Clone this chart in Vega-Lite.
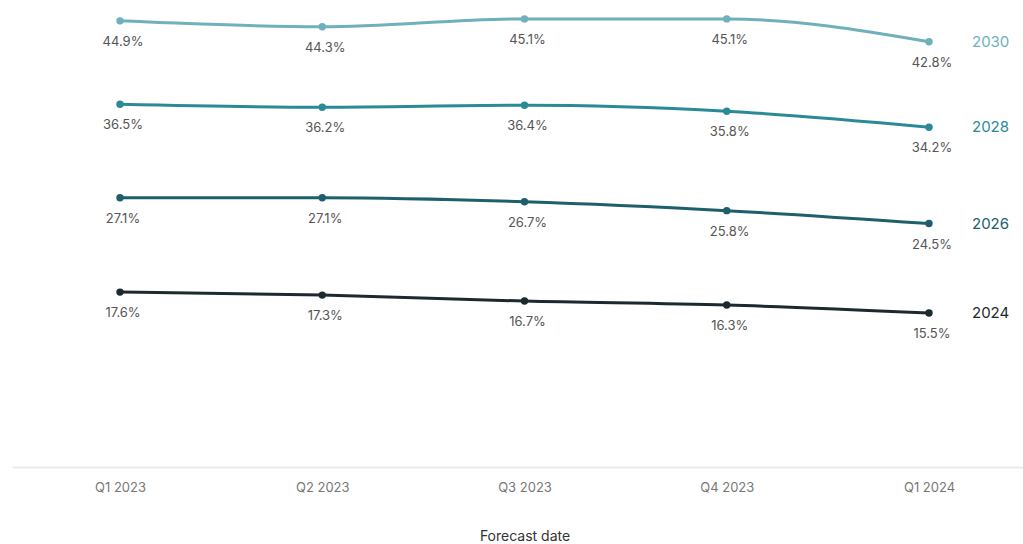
{
  "$schema": "https://vega.github.io/schema/vega-lite/v6.json",
  "width": 1025,
  "height": 467,
  "autosize": "none",
  "padding": {"left": 12, "top": 0, "right": 0, "bottom": 77},
  "background": "white",
  "config": {"view": {"stroke": null}, "font": "Inter"},
  "data": {"values": [
    {"date": "Q1 2023", "series": "2030", "value": 44.9},
    {"date": "Q2 2023", "series": "2030", "value": 44.3},
    {"date": "Q3 2023", "series": "2030", "value": 45.1},
    {"date": "Q4 2023", "series": "2030", "value": 45.1},
    {"date": "Q1 2024", "series": "2030", "value": 42.8},
    {"date": "Q1 2023", "series": "2028", "value": 36.5},
    {"date": "Q2 2023", "series": "2028", "value": 36.2},
    {"date": "Q3 2023", "series": "2028", "value": 36.4},
    {"date": "Q4 2023", "series": "2028", "value": 35.8},
    {"date": "Q1 2024", "series": "2028", "value": 34.2},
    {"date": "Q1 2023", "series": "2026", "value": 27.1},
    {"date": "Q2 2023", "series": "2026", "value": 27.1},
    {"date": "Q3 2023", "series": "2026", "value": 26.7},
    {"date": "Q4 2023", "series": "2026", "value": 25.8},
    {"date": "Q1 2024", "series": "2026", "value": 24.5},
    {"date": "Q1 2023", "series": "2024", "value": 17.6},
    {"date": "Q2 2023", "series": "2024", "value": 17.3},
    {"date": "Q3 2023", "series": "2024", "value": 16.7},
    {"date": "Q4 2023", "series": "2024", "value": 16.3},
    {"date": "Q1 2024", "series": "2024", "value": 15.5}
  ]},
  "encoding": {
    "x": {
      "field": "date", "type": "ordinal",
      "sort": ["Q1 2023", "Q2 2023", "Q3 2023", "Q4 2023", "Q1 2024"],
      "scale": {"type": "point", "padding": 0.534},
      "axis": {
        "title": "Forecast date", "titleFontSize": 14, "titleFontWeight": "normal", "titleColor": "#333333",
        "titlePadding": 35, "labelAngle": 0, "labelFontSize": 13, "labelColor": "#777777",
        "labelPadding": 14, "ticks": false, "domainColor": "#ebebeb", "domainWidth": 2, "grid": false
      }
    },
    "y": {
      "field": "value", "type": "quantitative",
      "scale": {"domain": [0, 47], "nice": false, "zero": true},
      "axis": null
    },
    "color": {
      "field": "series", "type": "nominal",
      "scale": {"domain": ["2030", "2028", "2026", "2024"], "range": ["#6fb0bd", "#2b8a97", "#1d5f6d", "#1c2a30"]},
      "legend": null
    }
  },
  "layer": [
    {"mark": {"type": "line", "strokeWidth": 3, "interpolate": "monotone"}},
    {"mark": {"type": "point", "filled": true, "size": 55, "opacity": 1}},
    {
      "transform": [{"calculate": "format(datum.value, '.1f') + '%'", "as": "label"}],
      "mark": {"type": "text", "dy": 21, "dx": 3, "fontSize": 13, "align": "center", "baseline": "middle"},
      "encoding": {"text": {"field": "label"}, "color": {"value": "#555555"}}
    },
    {
      "transform": [{"filter": "datum.date == 'Q1 2024'"}],
      "mark": {"type": "text", "dx": 43, "fontSize": 15, "align": "left", "baseline": "middle"},
      "encoding": {"text": {"field": "series"}}
    }
  ]
}
